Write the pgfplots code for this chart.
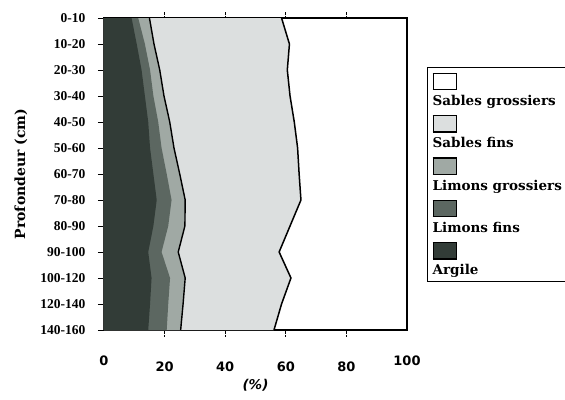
\documentclass[border=0pt]{standalone}
\usepackage{fontspec}
\setmainfont{DejaVu Serif}
\newfontfamily\yfont{Liberation Serif}
\newfontfamily\xfont{DejaVu Sans}
\usepackage{pgfplots}
\pgfplotsset{compat=1.18}
\usepackage{pgfplotstable}
\definecolor{cArg}{HTML}{323C37}
\definecolor{cLf}{HTML}{5C6761}
\definecolor{cLg}{HTML}{A0A9A4}
\definecolor{cSf}{HTML}{DCDFDF}
\newcommand\swatch[2]{\vbox{\offinterlineskip\hbox{\fboxsep=0pt\fboxrule=1.3pt\fbox{\textcolor{#1}{\rule{22pt}{15pt}}}}\vskip5pt\hbox{#2}}}

% cumulative boundaries (%) per depth class: A=Argile, B=+Limons fins, C=+Limons grossiers, G=+Sables fins
\pgfplotstableread{
y A B C G
0 9.1 11.3 15.0 58.6
1 10.8 13.5 16.5 61.2
2 12.4 15.2 18.4 60.5
3 13.5 16.3 19.8 61.4
4 14.6 17.9 21.7 62.8
5 15.2 19.0 23.1 63.9
6 16.3 20.7 25.0 64.4
7 17.4 22.3 26.8 65.0
8 16.3 21.2 26.7 61.4
9 14.6 19.0 24.5 57.8
10 15.7 21.8 26.8 61.7
11 15.2 21.2 26.1 58.6
12 14.6 20.7 25.3 56.1
}\cum

\begin{document}
\begin{tikzpicture}
\begin{axis}[
  scale only axis, width=303pt, height=312pt,
  xmin=0, xmax=100, ymin=0, ymax=12, y dir=reverse,
  axis line style={line width=1.6pt},
  tick align=outside,
  xtick={20,40,60,80},
  extra x ticks={0,100},
  extra x tick style={major tick length=0pt},
  x tick style={densely dotted, line width=1pt, black},
  major tick length=6pt,
  xtick pos=both,
  ytick={0,...,12},
  yticklabels={0-10,10-20,20-30,30-40,40-50,50-60,60-70,70-80,80-90,90-100,100-120,120-140,140-160},
  ytick pos=left,
  y tick style={line width=0.6pt, black},
  /pgf/number format/assume math mode=true,
  xticklabel style={font=\xfont\fontsize{13}{15}\selectfont\bfseries},
  xticklabel shift=22pt,
  yticklabel style={font=\yfont\fontsize{13.5}{15}\selectfont\bfseries},
  yticklabel shift=9pt,
  xlabel={(\%)},
  xlabel style={font=\xfont\fontsize{13.5}{15}\selectfont\bfseries\itshape, at={(axis description cs:0.5,-0.176)}, anchor=center},
  ylabel={Profondeur (cm)},
  ylabel style={font=\fontsize{14}{16}\selectfont\bfseries, at={(axis description cs:-0.274,0.5)}, anchor=center},
  legend style={at={(1.066,0.843)}, anchor=north west, draw=black, line width=1.3pt,
    inner sep=3pt, row sep=4pt, font=\fontsize{13.5}{15}\selectfont\bfseries},
  legend cell align=left,
]
\addplot[fill=cSf, draw=none, forget plot] table[x=G, y=y] {\cum} -- (axis cs:0,12) -- (axis cs:0,0) -- cycle;
\addplot[fill=cLg, draw=none, forget plot] table[x=C, y=y] {\cum} -- (axis cs:0,12) -- (axis cs:0,0) -- cycle;
\addplot[fill=cLf, draw=none, forget plot] table[x=B, y=y] {\cum} -- (axis cs:0,12) -- (axis cs:0,0) -- cycle;
\addplot[fill=cArg, draw=none, forget plot] table[x=A, y=y] {\cum} -- (axis cs:0,12) -- (axis cs:0,0) -- cycle;
\addplot[black, line width=1.4pt, forget plot] table[x=C, y=y] {\cum};
\addplot[black, line width=1.5pt, forget plot] table[x=G, y=y] {\cum};

\addlegendimage{empty legend}
\addlegendentry{\swatch{white}{Sables grossiers}}
\addlegendimage{empty legend}
\addlegendentry{\swatch{cSf}{Sables fins}}
\addlegendimage{empty legend}
\addlegendentry{\swatch{cLg}{Limons grossiers}}
\addlegendimage{empty legend}
\addlegendentry{\swatch{cLf}{Limons fins}}
\addlegendimage{empty legend}
\addlegendentry{\swatch{cArg}{Argile}}
\end{axis}
\pgfresetboundingbox
\path[use as bounding box] ([shift={(-104pt,-69pt)}]current axis.south west) rectangle ([shift={(158pt,18pt)}]current axis.north east);
\end{tikzpicture}
\end{document}
